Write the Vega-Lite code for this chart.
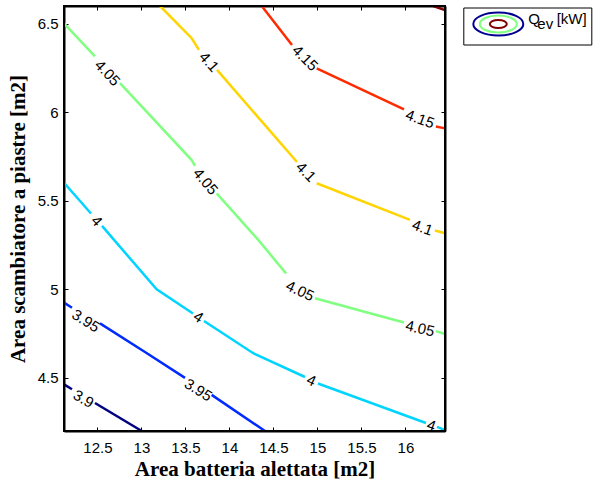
{
  "$schema": "https://vega.github.io/schema/vega-lite/v6.json",
  "width": 381,
  "height": 425,
  "autosize": {"type": "none"},
  "padding": {"left": 64, "top": 6, "right": 157, "bottom": 56},
  "background": "white",
  "config": {
    "view": {"stroke": "#000000", "strokeWidth": 2},
    "axis": {
      "domain": true,
      "domainColor": "#000000",
      "domainWidth": 2,
      "tickColor": "#000000",
      "tickWidth": 1,
      "tickSize": -4,
      "grid": false,
      "labelFont": "Liberation Sans",
      "labelFontSize": 15,
      "labelColor": "black",
      "labelFlush": false,
      "titleFont": "Liberation Serif",
      "titleFontSize": 21,
      "titleFontWeight": "bold",
      "titleColor": "black"
    }
  },
  "datasets": {
    "lines": [
      {"lvl": "3.9", "seg": "a1", "x": 12.12, "y": 4.463},
      {"lvl": "3.9", "seg": "a1", "x": 12.211, "y": 4.436},
      {"lvl": "3.9", "seg": "a2", "x": 12.472, "y": 4.358},
      {"lvl": "3.9", "seg": "a2", "x": 13.003, "y": 4.2},
      {"lvl": "3.95", "seg": "b1", "x": 12.12, "y": 4.925},
      {"lvl": "3.95", "seg": "b1", "x": 12.211, "y": 4.896},
      {"lvl": "3.95", "seg": "b2", "x": 12.529, "y": 4.808},
      {"lvl": "3.95", "seg": "b2", "x": 13.04, "y": 4.646},
      {"lvl": "3.95", "seg": "b2", "x": 13.495, "y": 4.5},
      {"lvl": "3.95", "seg": "b3", "x": 13.798, "y": 4.404},
      {"lvl": "3.95", "seg": "b3", "x": 14.404, "y": 4.2},
      {"lvl": "4", "seg": "c1", "x": 12.12, "y": 5.602},
      {"lvl": "4", "seg": "c1", "x": 12.427, "y": 5.428},
      {"lvl": "4", "seg": "c2", "x": 12.552, "y": 5.358},
      {"lvl": "4", "seg": "c2", "x": 13.173, "y": 5.0},
      {"lvl": "4", "seg": "c2", "x": 13.586, "y": 4.864},
      {"lvl": "4", "seg": "c3", "x": 13.711, "y": 4.821},
      {"lvl": "4", "seg": "c3", "x": 14.271, "y": 4.639},
      {"lvl": "4", "seg": "c3", "x": 14.859, "y": 4.505},
      {"lvl": "4", "seg": "c4", "x": 15.006, "y": 4.468},
      {"lvl": "4", "seg": "c4", "x": 16.234, "y": 4.245},
      {"lvl": "4", "seg": "c5", "x": 16.359, "y": 4.223},
      {"lvl": "4", "seg": "c5", "x": 16.45, "y": 4.205},
      {"lvl": "4.05", "seg": "d1", "x": 12.12, "y": 6.502},
      {"lvl": "4.05", "seg": "d1", "x": 12.472, "y": 6.315},
      {"lvl": "4.05", "seg": "d2", "x": 12.756, "y": 6.164},
      {"lvl": "4.05", "seg": "d2", "x": 13.571, "y": 5.73},
      {"lvl": "4.05", "seg": "d2", "x": 13.609, "y": 5.697},
      {"lvl": "4.05", "seg": "d3", "x": 13.855, "y": 5.542},
      {"lvl": "4.05", "seg": "d3", "x": 14.328, "y": 5.279},
      {"lvl": "4.05", "seg": "d3", "x": 14.643, "y": 5.09},
      {"lvl": "4.05", "seg": "d4", "x": 14.972, "y": 4.95},
      {"lvl": "4.05", "seg": "d4", "x": 15.984, "y": 4.813},
      {"lvl": "4.05", "seg": "d5", "x": 16.347, "y": 4.764},
      {"lvl": "4.05", "seg": "d5", "x": 16.45, "y": 4.748},
      {"lvl": "4.1", "seg": "e1", "x": 13.211, "y": 6.6},
      {"lvl": "4.1", "seg": "e1", "x": 13.571, "y": 6.418},
      {"lvl": "4.1", "seg": "e1", "x": 13.654, "y": 6.352},
      {"lvl": "4.1", "seg": "e2", "x": 13.859, "y": 6.239},
      {"lvl": "4.1", "seg": "e2", "x": 14.768, "y": 5.719},
      {"lvl": "4.1", "seg": "e3", "x": 14.992, "y": 5.599},
      {"lvl": "4.1", "seg": "e3", "x": 16.052, "y": 5.392},
      {"lvl": "4.1", "seg": "e4", "x": 16.336, "y": 5.332},
      {"lvl": "4.1", "seg": "e4", "x": 16.45, "y": 5.317},
      {"lvl": "4.15", "seg": "f1", "x": 14.367, "y": 6.6},
      {"lvl": "4.15", "seg": "f1", "x": 14.711, "y": 6.38},
      {"lvl": "4.15", "seg": "f2", "x": 14.992, "y": 6.248},
      {"lvl": "4.15", "seg": "f2", "x": 15.984, "y": 6.016},
      {"lvl": "4.15", "seg": "f3", "x": 16.347, "y": 5.92},
      {"lvl": "4.15", "seg": "f3", "x": 16.45, "y": 5.909},
      {"lvl": "4.2", "seg": "g1", "x": 16.317, "y": 6.6},
      {"lvl": "4.2", "seg": "g1", "x": 16.45, "y": 6.577}
    ],
    "labels": [
      {"lbl": "3.9", "x": 12.342, "y": 4.381, "ang": 30},
      {"lbl": "3.95", "x": 12.368, "y": 4.822, "ang": 32},
      {"lbl": "3.95", "x": 13.646, "y": 4.432, "ang": 32},
      {"lbl": "4", "x": 12.492, "y": 5.386, "ang": 48},
      {"lbl": "4", "x": 13.648, "y": 4.844, "ang": 33},
      {"lbl": "4", "x": 14.933, "y": 4.485, "ang": 25},
      {"lbl": "4", "x": 16.296, "y": 4.231, "ang": 20},
      {"lbl": "4.05", "x": 12.614, "y": 6.222, "ang": 47},
      {"lbl": "4.05", "x": 13.728, "y": 5.609, "ang": 50},
      {"lbl": "4.05", "x": 14.802, "y": 4.991, "ang": 25},
      {"lbl": "4.05", "x": 16.166, "y": 4.779, "ang": 13},
      {"lbl": "4.1", "x": 13.768, "y": 6.284, "ang": 48},
      {"lbl": "4.1", "x": 14.87, "y": 5.663, "ang": 45},
      {"lbl": "4.1", "x": 16.194, "y": 5.349, "ang": 20},
      {"lbl": "4.15", "x": 14.859, "y": 6.306, "ang": 45},
      {"lbl": "4.15", "x": 16.166, "y": 5.962, "ang": 20}
    ],
    "leg": [
      {"lx": 10, "ly": 4, "a": "Q\u00a0\u00a0\u00a0\u00a0[kW]\u00a0\u00a0", "b": "ev", "c": "\u00a0"}
    ],
    "frame": [
      {"x1": 12.12, "x2": 16.45, "y1": 4.2, "y2": 6.6}
    ]
  },
  "layer": [
    {
      "data": {"name": "lines"},
      "mark": {"type": "line", "strokeWidth": 2.5},
      "encoding": {
        "x": {
          "field": "x", "type": "quantitative",
          "scale": {"domain": [12.12, 16.45], "nice": false, "zero": false},
          "axis": {
            "orient": "bottom",
            "values": [12.5, 13, 13.5, 14, 14.5, 15, 15.5, 16],
            "format": "~g",
            "labelPadding": 13,
            "title": "Area batteria alettata [m2]",
            "titleY": 44,
            "titleBaseline": "alphabetic"
          }
        },
        "y": {
          "field": "y", "type": "quantitative",
          "scale": {"domain": [4.2, 6.6], "nice": false, "zero": false},
          "axis": {
            "orient": "left",
            "values": [4.5, 5, 5.5, 6, 6.5],
            "format": "~g",
            "labelPadding": 10,
            "title": "Area scambiatore a piastre [m2]",
            "titleX": -40,
            "titleY": 212.5,
            "titleBaseline": "alphabetic"
          }
        },
        "color": {
          "field": "lvl", "type": "nominal",
          "scale": {
            "domain": ["3.9", "3.95", "4", "4.05", "4.1", "4.15", "4.2"],
            "range": ["#000080", "#002bff", "#00d4ff", "#80ff80", "#ffd400", "#ff2b00", "#800000"]
          },
          "legend": null
        },
        "detail": {"field": "seg"}
      }
    },
    {
      "data": {"name": "labels"},
      "mark": {"type": "text", "font": "Liberation Sans", "fontSize": 15, "color": "black", "align": "center", "baseline": "middle"},
      "encoding": {
        "x": {
          "field": "x", "type": "quantitative",
          "scale": {"domain": [12.12, 16.45], "nice": false, "zero": false},
          "axis": {"orient": "top", "values": [12.5, 13, 13.5, 14, 14.5, 15, 15.5, 16], "labels": false, "title": null}
        },
        "y": {
          "field": "y", "type": "quantitative",
          "scale": {"domain": [4.2, 6.6], "nice": false, "zero": false},
          "axis": {"orient": "right", "values": [4.5, 5, 5.5, 6, 6.5], "labels": false, "title": null}
        },
        "text": {"field": "lbl"},
        "angle": {"field": "ang", "type": "quantitative", "scale": null}
      }
    },
    {
      "data": {"name": "leg"},
      "mark": {"type": "point", "filled": false, "opacity": 1, "strokeWidth": 2, "size": 484, "color": "#000090"},
      "encoding": {
        "x": {"field": "lx", "type": "quantitative", "scale": {"domain": [12.12, 16.45], "nice": false, "zero": false}, "axis": null},
        "y": {"field": "ly", "type": "quantitative", "scale": {"domain": [4.2, 6.6], "nice": false, "zero": false}, "axis": null},
        "shape": {
          "field": "a", "type": "nominal",
          "scale": {"range": ["M-2.273,0C-2.273,-0.577,-1.255,-1.045,0,-1.045C1.255,-1.045,2.273,-0.577,2.273,0C2.273,0.577,1.255,1.045,0,1.045C-1.255,1.045,-2.273,0.577,-2.273,0Z"]},
          "legend": {
            "orient": "none", "legendX": 399.3, "legendY": 1.5, "title": null,
            "padding": 4.5, "strokeColor": "black",
            "symbolOffset": 18.5, "labelOffset": 18,
            "symbolSize": 484, "symbolStrokeWidth": 2, "symbolStrokeColor": "#000090", "symbolFillColor": "transparent",
            "labelFont": "Liberation Sans", "labelFontSize": 15, "labelColor": "black", "labelBaseline": "alphabetic", "labelLimit": 0
          }
        }
      }
    },
    {
      "data": {"name": "leg"},
      "mark": {"type": "point", "filled": false, "opacity": 1, "strokeWidth": 2, "size": 484, "color": "#80ff80"},
      "encoding": {
        "x": {"field": "lx", "type": "quantitative", "scale": {"domain": [12.12, 16.45], "nice": false, "zero": false}, "axis": null},
        "y": {"field": "ly", "type": "quantitative", "scale": {"domain": [4.2, 6.6], "nice": false, "zero": false}, "axis": null},
        "shape": {
          "field": "b", "type": "nominal",
          "scale": {"range": ["M-1.682,0C-1.682,-0.427,-0.929,-0.773,0,-0.773C0.929,-0.773,1.682,-0.427,1.682,0C1.682,0.427,0.929,0.773,0,0.773C-0.929,0.773,-1.682,0.427,-1.682,0Z"]},
          "legend": {
            "orient": "none", "legendX": 399.3, "legendY": 1.5, "title": null,
            "padding": 4.5,
            "symbolOffset": 18.5, "labelOffset": 27,
            "symbolSize": 484, "symbolStrokeWidth": 2, "symbolStrokeColor": "#80ff80", "symbolFillColor": "transparent",
            "labelFont": "Liberation Sans", "labelFontSize": 15, "labelColor": "black", "labelBaseline": "middle", "labelLimit": 0
          }
        }
      }
    },
    {
      "data": {"name": "leg"},
      "mark": {"type": "point", "filled": false, "opacity": 1, "strokeWidth": 2, "size": 484, "color": "#800000"},
      "encoding": {
        "x": {"field": "lx", "type": "quantitative", "scale": {"domain": [12.12, 16.45], "nice": false, "zero": false}, "axis": null},
        "y": {"field": "ly", "type": "quantitative", "scale": {"domain": [4.2, 6.6], "nice": false, "zero": false}, "axis": null},
        "shape": {
          "field": "c", "type": "nominal",
          "scale": {"range": ["M-0.773,0C-0.773,-0.201,-0.427,-0.364,0,-0.364C0.427,-0.364,0.773,-0.201,0.773,0C0.773,0.201,0.427,0.364,0,0.364C-0.427,0.364,-0.773,0.201,-0.773,0Z"]},
          "legend": {
            "orient": "none", "legendX": 399.3, "legendY": 1.5, "title": null,
            "padding": 4.5,
            "symbolOffset": 18.5, "labelOffset": 18,
            "symbolSize": 484, "symbolStrokeWidth": 2, "symbolStrokeColor": "#800000", "symbolFillColor": "transparent",
            "labelFont": "Liberation Sans", "labelFontSize": 15, "labelColor": "black", "labelLimit": 0
          }
        }
      }
    },
    {
      "data": {"name": "frame"},
      "mark": {"type": "rect", "filled": false, "color": "#000000", "strokeWidth": 2, "opacity": 1},
      "encoding": {
        "x": {"field": "x1", "type": "quantitative", "scale": {"domain": [12.12, 16.45], "nice": false, "zero": false}, "axis": null},
        "x2": {"field": "x2"},
        "y": {"field": "y1", "type": "quantitative", "scale": {"domain": [4.2, 6.6], "nice": false, "zero": false}, "axis": null},
        "y2": {"field": "y2"}
      }
    }
  ],
  "resolve": {
    "axis": {"x": "independent", "y": "independent"},
    "scale": {"shape": "independent"},
    "legend": {"shape": "independent"}
  }
}
